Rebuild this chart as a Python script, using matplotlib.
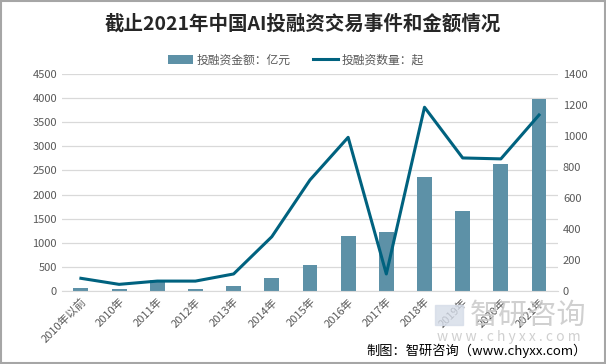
import matplotlib.pyplot as plt
import numpy as np

plt.rcParams['font.family'] = ['Noto Sans CJK SC', 'DejaVu Sans']

# ---- data ----
years = ["2010年以前", "2010年", "2011年", "2012年", "2013年", "2014年", "2015年",
         "2016年", "2017年", "2018年", "2019年", "2020年", "2021年"]
amount = [69, 41, 225, 41, 110, 276, 540, 1147, 1224, 2364, 1659, 2634, 3982]   # 亿元
deals = [82, 43, 64, 64, 110, 350, 716, 991, 110, 1185, 858, 852, 1135]         # 起

bar_color = "#5D91A7"
line_color = "#00627F"
tick_color = "#595959"

fig = plt.figure(figsize=(6.06, 3.64), dpi=100)
ax = fig.add_axes([0.102, 0.2005, 0.819, 0.5965])
ax2 = ax.twinx()

x = np.arange(len(years))
bars = ax.bar(x, amount, width=0.39, color=bar_color, zorder=2)
line, = ax2.plot(x, deals, color=line_color, lw=2.2, zorder=3)

ax.set_xlim(-0.5, len(years) - 0.5)
ax.set_ylim(0, 4500)
ax.set_yticks(np.arange(0, 4501, 500))
ax2.set_ylim(0, 1400)
ax2.set_yticks(np.arange(0, 1401, 200))

ax.grid(axis="y", color="#D9D9D9", lw=0.9, zorder=0)
ax.set_axisbelow(True)
for a in (ax, ax2):
    for s in a.spines.values():
        s.set_visible(False)
    a.tick_params(length=0, colors=tick_color, labelsize=8)
ax.spines["bottom"].set_visible(True)
ax.spines["bottom"].set_color("#D9D9D9")

ax.set_xticks(x)
ax.set_xticklabels(years, rotation=45, ha="right", rotation_mode="anchor", fontsize=8)
ax.tick_params(axis="x", pad=4)

# title and legend
fig.text(0.5, 0.934, "截止2021年中国AI投融资交易事件和金额情况", ha="center", va="center",
         fontsize=14, fontweight="bold", color="#262626")
fig.legend([bars, line], ["投融资金额：亿元", "投融资数量：起"], loc="center",
           bbox_to_anchor=(0.488, 0.835), ncol=2, frameon=False, fontsize=8.5,
           handlelength=2.1, handletextpad=0.3, columnspacing=1.9, labelcolor="#595959")

# watermark
fig.patches.append(plt.Rectangle((0.718, 0.107), 0.046, 0.055, transform=fig.transFigure,
                                 color="#D5DCE8", alpha=0.8, zorder=0))
fig.text(0.871, 0.132, "智研咨询", ha="center", va="center", fontsize=21,
         color="#C8C8C8", alpha=0.85, zorder=0)
fig.text(0.84, 0.074, "w w w . c h y x x . c o m", ha="center", va="center", fontsize=10,
         color="#C8C8C8", alpha=0.85)

# source
fig.text(0.969, 0.035, "制图：智研咨询（www.chyxx.com）", ha="right", va="center",
         fontsize=9.5, color="#000000")

# border
fig.patches.append(plt.Rectangle((0.001, 0.002), 0.997, 0.995, transform=fig.transFigure,
                                 fill=False, edgecolor="#A6A6A6", lw=1.5))

fig.savefig("out.png", dpi=100)
